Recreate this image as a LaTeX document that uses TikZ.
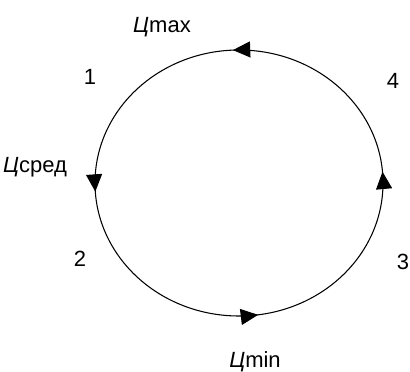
\documentclass[tikz,border=0pt]{standalone}
\usepackage{fontspec}
\setmainfont{Liberation Sans}
\usetikzlibrary{arrows.meta,decorations.markings}

\tikzset{
  lbl/.style={font=\fontsize{16.5}{18}\selectfont, anchor=base, inner sep=0pt},
  tri/.style={-{Triangle[length=13pt,width=12pt]}},
}

\begin{document}
\begin{tikzpicture}[x=0.75pt,y=0.75pt]
\useasboundingbox (0,0) rectangle (410,371);

% cycle
\draw[line width=0.8pt,
  postaction={decorate},
  decoration={markings,
    mark=at position 0.013 with {\arrow{Triangle[length=13pt,width=12pt]}},
    mark=at position 0.257 with {\arrow{Triangle[length=13pt,width=12pt]}},
    mark=at position 0.510 with {\arrow{Triangle[length=13pt,width=12pt]}},
    mark=at position 0.772 with {\arrow{Triangle[length=13pt,width=12pt]}}}]
  (239,188) ellipse [x radius=144, y radius=133];

% levels
\node[lbl] (cmax) at (162,338) {\textit{Ц}max};
\node[lbl] (cmid) at (35,198) {\textit{Ц}сред};
\node[lbl] (cmin) at (255,4) {\textit{Ц}min};

% phases
\node[lbl] (p1) at (90,286) {1};
\node[lbl] (p2) at (80,104) {2};
\node[lbl] (p3) at (403,101) {3};
\node[lbl] (p4) at (393,282) {4};

\end{tikzpicture}
\end{document}
